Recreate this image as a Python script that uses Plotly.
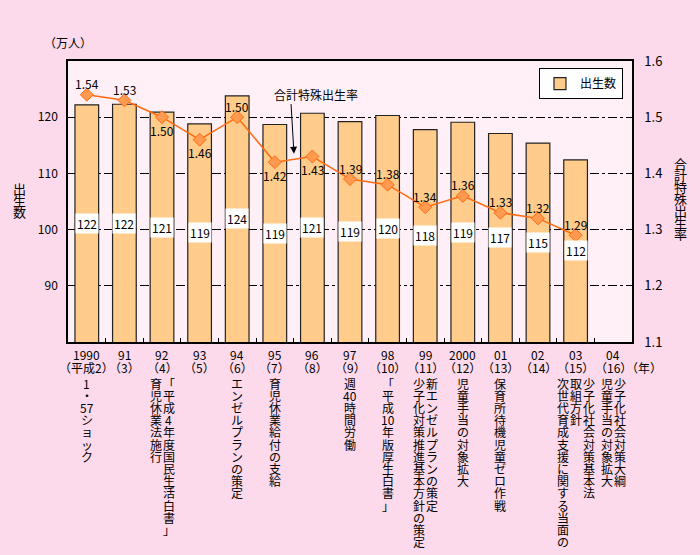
import re
import plotly.graph_objects as go

# ---- data ----
years = ["1990", "91", "92", "93", "94", "95", "96", "97", "98", "99", "2000", "01", "02", "03", "04"]
heisei = ["（平成2）", "（3）", "（4）", "（5）", "（6）", "（7）", "（8）", "（9）", "（10）",
          "（11）", "（12）", "（13）", "（14）", "（15）", "（16）"]
births = [122.2, 122.3, 120.9, 118.8, 123.8, 118.7, 120.7, 119.2, 120.3, 117.8, 119.1, 117.1, 115.4, 112.4, None]
birth_labels = ["122", "122", "121", "119", "124", "119", "121", "119", "120", "118", "119", "117", "115", "112"]
tfr = [1.54, 1.53, 1.50, 1.46, 1.50, 1.42, 1.43, 1.39, 1.38, 1.34, 1.36, 1.33, 1.32, 1.29]
tfr_label_side = ["above", "above", "below", "below", "above", "below", "below", "above",
                  "above", "above", "above", "above", "above", "above"]
events = {
    0: ["1・57ショック"],
    2: ["育児休業法施行", "「平成4年度国民生活白書」"],
    4: ["エンゼルプランの策定"],
    5: ["育児休業給付の支給"],
    7: ["週40時間労働"],
    8: ["「平成10年版厚生白書」"],
    9: ["少子化対策推進基本方針の策定", "新エンゼルプランの策定"],
    10: ["児童手当の対象拡大"],
    11: ["保育所待機児童ゼロ作戦"],
    13: ["次世代育成支援に関する当面の", "取組方針", "少子化社会対策基本法"],
    14: ["児童手当の対象拡大", "少子化社会対策大綱"],
}

FONT = "Noto Sans CJK JP, Noto Sans, sans-serif"
PAPER = "#FDDAEB"
PLOT = "#FFF0F7"
BAR = "#FFCC8C"
LINE = "#FF6A10"

W, H = 700, 555
ML, MR, MT, MB = 68, 68, 61, 213
PH = H - MT - MB

xs = list(range(len(years)))

fig = go.Figure()
fig.add_trace(go.Bar(
    x=xs, y=births, name="出生数", width=0.63,
    marker=dict(color=BAR, line=dict(color="#222222", width=1.2)),
    yaxis="y", hoverinfo="skip",
))
fig.add_trace(go.Scatter(
    x=xs[:len(tfr)], y=tfr, mode="lines+markers", yaxis="y2", showlegend=False,
    line=dict(color=LINE, width=1.5),
    marker=dict(symbol="diamond", size=10, color="#FF9A50", line=dict(color=LINE, width=1)),
    hoverinfo="skip",
))

ann = []
# bar value labels (white boxes at mid-bar)
for i, (v, lab) in enumerate(zip(births, birth_labels)):
    ann.append(dict(x=i, y=(v + 80) / 2, xref="x", yref="y", text=lab, showarrow=False,
                    bgcolor="white", borderpad=1, font=dict(family=FONT, size=12, color="black")))
# TFR labels
for i, (v, side) in enumerate(zip(tfr, tfr_label_side)):
    ann.append(dict(x=i, y=v, xref="x", yref="y2", text=f"{v:.2f}", showarrow=False,
                    yshift=11 if side == "above" else -13,
                    font=dict(family=FONT, size=12, color="black")))
# year tick labels
for i, (yr, hs) in enumerate(zip(years, heisei)):
    ann.append(dict(x=i, y=0, xref="x", yref="paper", text=yr, showarrow=False, yshift=-12,
                    xanchor="center", yanchor="middle",
                    font=dict(family=FONT, size=12, color="black")))
    ann.append(dict(x=i, y=0, xref="x", yref="paper", text=hs, showarrow=False, yshift=-25,
                    xanchor="center", yanchor="middle",
                    font=dict(family=FONT, size=12, color="black")))
ann.append(dict(x=1, y=0, xref="paper", yref="paper", text="（年）", showarrow=False,
                xshift=12, yshift=-25, xanchor="center", yanchor="middle",
                font=dict(family=FONT, size=12, color="black")))


def vtext(s, x, xref, xshift, y0px, step, size=12):
    toks = re.findall(r"\d+|.", s)
    out = []
    for k, t in enumerate(toks):
        ypx = y0px + k * step
        out.append(dict(x=x, xref=xref, xshift=xshift, y=(H - MB - ypx) / PH, yref="paper",
                        text=t, showarrow=False, xanchor="center", yanchor="middle",
                        font=dict(family=FONT, size=size, color="black")))
    return out


# event vertical texts
COLSTEP = 13
for i, cols in events.items():
    n = len(cols)
    for c, s in enumerate(cols):
        off = (c - (n - 1) / 2) * COLSTEP
        ann += vtext(s, i, "x", off, 383, 12.2)

# axis titles
ann += vtext("出生数", 0, "paper", -49, 188, 12, size=13)
ann += vtext("合計特殊出生率", 1, "paper", 48, 163, 11.8, size=13)
ann.append(dict(x=0, y=1, xref="paper", yref="paper", text="（万人）", showarrow=False,
                yshift=19, xanchor="center", yanchor="middle",
                font=dict(family=FONT, size=12, color="black")))

# callout for the line
ann.append(dict(x=6.1, y=124.1, xref="x", yref="y", text="合計特殊出生率", showarrow=False,
                font=dict(family=FONT, size=12, color="black")))
ann.append(dict(x=5.51, y=113.5, xref="x", yref="y", ax=5.43, ay=122.6, axref="x", ayref="y",
                text="", showarrow=True, arrowhead=2, arrowsize=1.4, arrowwidth=1,
                arrowcolor="black"))

fig.update_layout(
    width=W, height=H,
    margin=dict(l=ML, r=MR, t=MT, b=MB, autoexpand=False),
    paper_bgcolor=PAPER, plot_bgcolor=PLOT,
    font=dict(family=FONT, size=12, color="black"),
    bargap=0.37,
    annotations=ann,
    legend=dict(x=0.984, y=0.975, xanchor="right", yanchor="top", bgcolor="white",
                bordercolor="black", borderwidth=1, font=dict(family=FONT, size=12),
                itemwidth=30, tracegroupgap=0),
    xaxis=dict(range=[-0.5, 14.5], tickvals=[k + 0.5 for k in range(14)], ticks="inside",
               ticklen=4, tickcolor="black", showticklabels=False, showline=True,
               linecolor="black", linewidth=1.5, mirror=True, showgrid=False, zeroline=False,
               fixedrange=True),
    yaxis=dict(range=[80, 130], tickvals=[90, 100, 110, 120], showgrid=True, gridcolor="black",
               gridwidth=1, griddash="dashdot", showline=True, linecolor="black", linewidth=1.5,
               zeroline=False, ticks="", ticklabelstandoff=6,
               tickfont=dict(family=FONT, size=12)),
    yaxis2=dict(range=[1.1, 1.6], tickvals=[1.1, 1.2, 1.3, 1.4, 1.5, 1.6], tickformat=".1f",
                overlaying="y", side="right", showgrid=False, showline=True, linecolor="black",
                linewidth=1.5, zeroline=False, ticks="", ticklabelstandoff=8,
                tickfont=dict(family=FONT, size=13)),
)

fig.write_html("out.html", config={"displayModeBar": False},
               post_script="document.body.style.margin='0';document.body.style.overflow='hidden';")
